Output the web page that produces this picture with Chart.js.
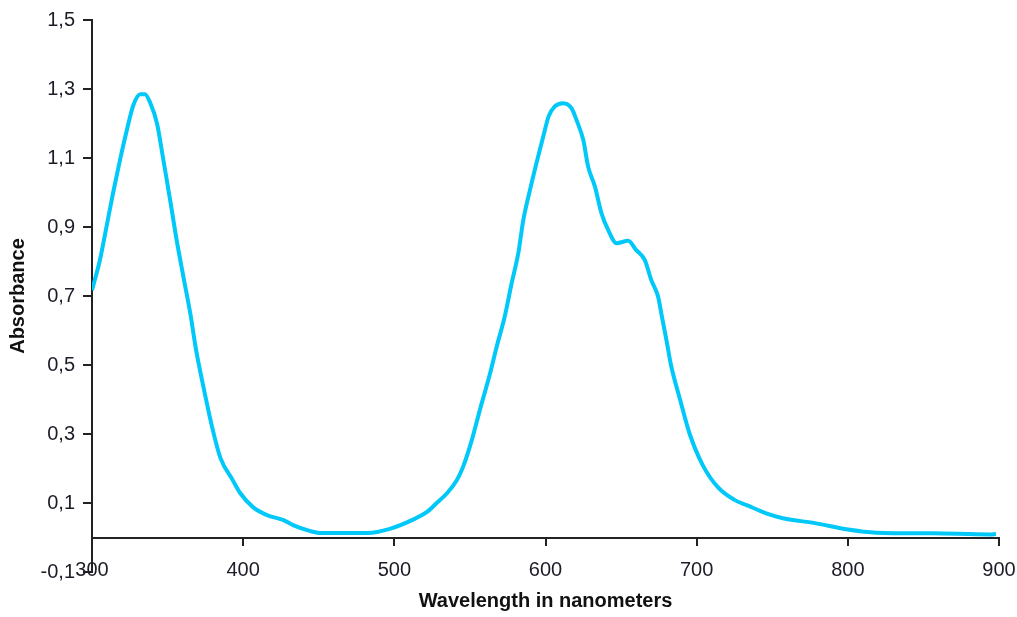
<!DOCTYPE html>
<html>
<head>
<meta charset="utf-8">
<title>Absorbance</title>
<script src="https://cdn.jsdelivr.net/npm/chart.js@4/dist/chart.umd.min.js"></script>
<style>
  html, body { margin: 0; padding: 0; background: #fff; }
  #wrap { width: 1017px; height: 617px; position: relative; }
</style>
</head>
<body>
<div id="wrap"><canvas id="spectrum"></canvas></div>
<script>
// spectrum (nm -> absorbance)
const wavelengths = [
    300, 305, 310, 314, 318.5, 323, 327.5, 332, 335, 338.5, 343, 347, 352, 356, 360.5, 365,
    369, 374.5, 380, 385, 393, 398, 406.5, 415.7, 426.3, 433, 444, 451, 482.5, 497,
    512, 521.6, 528, 535, 541.4, 545.4, 551.3, 556.6, 563, 568, 573, 577.6, 582, 585.3,
    589.7, 594, 598.5, 602, 606, 611.7, 617.3, 620.5, 625, 628.2, 632.7, 637, 641.5, 647,
    654.7, 660, 665.7, 670, 674.5, 677, 680, 683, 689, 695.4, 704, 714, 725, 733, 746,
    757, 779, 799, 819, 856, 894, 898
];
const absorbance = [
    0.717, 0.80, 0.91, 1.00, 1.094, 1.18, 1.255, 1.285, 1.285, 1.26, 1.20, 1.10, 0.97, 0.862, 0.755, 0.65,
    0.54, 0.42, 0.31, 0.23, 0.167, 0.129, 0.088, 0.065, 0.051, 0.036, 0.019, 0.013, 0.013, 0.025,
    0.051, 0.074, 0.10, 0.129, 0.167, 0.204, 0.283, 0.37, 0.47, 0.558, 0.64, 0.737, 0.824, 0.92,
    1.007, 1.085, 1.162, 1.22, 1.249, 1.259, 1.244, 1.21, 1.152, 1.075, 1.017, 0.94, 0.891, 0.853,
    0.86, 0.833, 0.804, 0.746, 0.698, 0.64, 0.572, 0.50, 0.40, 0.30, 0.21, 0.146, 0.109, 0.094, 0.07,
    0.056, 0.041, 0.024, 0.014, 0.012, 0.009, 0.01
];
const xTicks = [300, 400, 500, 600, 700, 800, 900];
const yTicks = [-0.1, 0.1, 0.3, 0.5, 0.7, 0.9, 1.1, 1.3, 1.5];

const points = wavelengths.map((w, i) => ({ x: w, y: absorbance[i] }));
const axisColor = '#222';
const textColor = '#1c1c28';
const FONT = "'Liberation Sans', Arial, sans-serif";

new Chart(document.getElementById('spectrum'), {
    type: 'line',
    data: {
        datasets: [{
            label: 'Absorbance',
            data: points,
            borderColor: '#00c8f8',
            borderWidth: 4,
            pointRadius: 0,
            cubicInterpolationMode: 'monotone',
            fill: false
        }]
    },
    options: {
        responsive: true,
        maintainAspectRatio: false,
        animation: false,
        layout: { padding: { top: 20, right: 18, bottom: 45, left: 0 } },
        plugins: { legend: { display: false }, tooltip: { enabled: false } },
        scales: {
            x: {
                type: 'linear',
                position: { y: 0 },
                min: 300,
                max: 900,
                afterBuildTicks: s => { s.ticks = xTicks.map(v => ({ value: v })); },
                afterFit: s => { s.height = 76; s.paddingLeft = 0; s.paddingRight = 0; },
                border: { display: true, color: axisColor, width: 2 },
                grid: { drawOnChartArea: false, drawTicks: true, tickLength: 7, color: axisColor, lineWidth: 2 },
                ticks: {
                    color: textColor,
                    padding: 14,
                    maxRotation: 0,
                    font: { family: FONT, size: 20 },
                    callback: v => String(v)
                },
                title: {
                    display: true,
                    text: 'Wavelength in nanometers',
                    color: '#111',
                    padding: { top: 0, bottom: 0 },
                    font: { family: FONT, size: 20, weight: 'bold' }
                }
            },
            y: {
                type: 'linear',
                min: -0.1,
                max: 1.5,
                afterBuildTicks: s => { s.ticks = yTicks.map(v => ({ value: v })); },
                afterFit: s => { s.width = 92; s.paddingTop = 0; s.paddingBottom = 0; },
                border: { display: true, color: axisColor, width: 2 },
                grid: { drawOnChartArea: false, drawTicks: true, tickLength: 9, color: axisColor, lineWidth: 2 },
                ticks: {
                    color: textColor,
                    padding: 8,
                    font: { family: FONT, size: 20 },
                    callback: v => Number(v).toFixed(1).replace('.', ',')
                },
                title: {
                    display: true,
                    text: 'Absorbance',
                    color: '#111',
                    padding: { top: 6, bottom: 0 },
                    font: { family: FONT, size: 20, weight: 'bold' }
                }
            }
        }
    }
});
</script>
</body>
</html>
